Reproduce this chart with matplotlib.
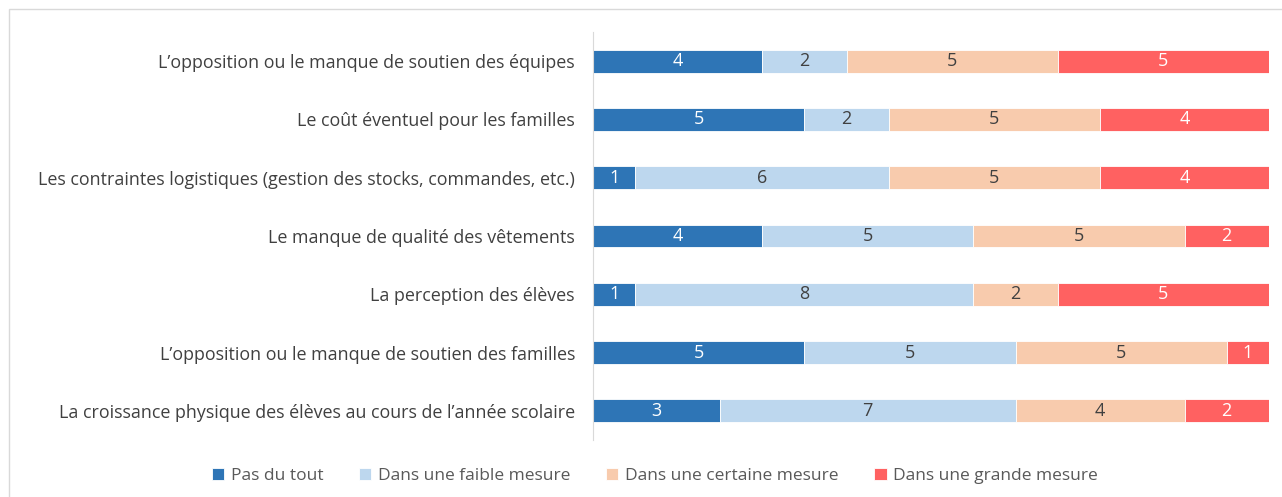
import numpy as np
import matplotlib.pyplot as plt
from matplotlib.patches import Rectangle

# obstacles, from top to bottom
categories = [
    "L\u2019opposition ou le manque de soutien des équipes",
    "Le coût éventuel pour les familles",
    "Les contraintes logistiques (gestion des stocks, commandes, etc.)",
    "Le manque de qualité des vêtements",
    "La perception des élèves",
    "L\u2019opposition ou le manque de soutien des familles",
    "La croissance physique des élèves au cours de l\u2019année scolaire",
]
series = ["Pas du tout", "Dans une faible mesure",
          "Dans une certaine mesure", "Dans une grande mesure"]
pas_du_tout = [4, 5, 1, 4, 1, 5, 3]
faible = [2, 2, 6, 5, 8, 5, 7]
certaine = [5, 5, 5, 5, 2, 5, 4]
grande = [5, 4, 4, 2, 5, 1, 2]

colors = ["#2E75B6", "#BDD7EE", "#F8CBAD", "#FF6161"]
txt_colors = ["white", "#404040", "#404040", "white"]

plt.rcParams['font.family'] = ['Open Sans', 'DejaVu Sans']

fig = plt.figure(figsize=(12.82, 4.97), dpi=100)
# light frame around the chart
fig.patches.append(Rectangle((9 / 1282, -0.1), 1.2, 1 - 9 / 497 + 0.1,
                             transform=fig.transFigure, fill=False,
                             edgecolor="#D9D9D9", linewidth=1))
ax = fig.add_axes([593 / 1282, 57 / 497, 676 / 1282, 408 / 497])

y = np.arange(len(categories))
left = np.zeros(len(categories))
for vals, name, c, tc in zip([pas_du_tout, faible, certaine, grande],
                             series, colors, txt_colors):
    vals = np.array(vals)
    bars = ax.barh(y, vals, left=left, height=0.39, color=c, label=name,
                   edgecolor="white", linewidth=0.6)
    for b, v in zip(bars, vals):
        ax.text(b.get_x() + b.get_width() / 2, b.get_y() + b.get_height() / 2,
                str(v), ha="center", va="center", color=tc, fontsize=13)
    left += vals

ax.set_xlim(0, 16)
ax.set_ylim(len(categories) - 0.5, -0.5)
ax.set_yticks(y)
ax.set_yticklabels(categories, fontsize=12.9, color="#404040")
ax.tick_params(axis="y", length=0, pad=13)
ax.set_xticks([])
for s in ["top", "right", "bottom"]:
    ax.spines[s].set_visible(False)
ax.spines["left"].set_color("#D9D9D9")

fig.legend(loc="center", bbox_to_anchor=(655 / 1282, 1 - 476 / 497), ncol=4,
           frameon=False, fontsize=12.5, handlelength=0.7, handleheight=0.7,
           handletextpad=0.4, columnspacing=2.05, labelcolor="#595959")

fig.savefig("out.png", dpi=100)
